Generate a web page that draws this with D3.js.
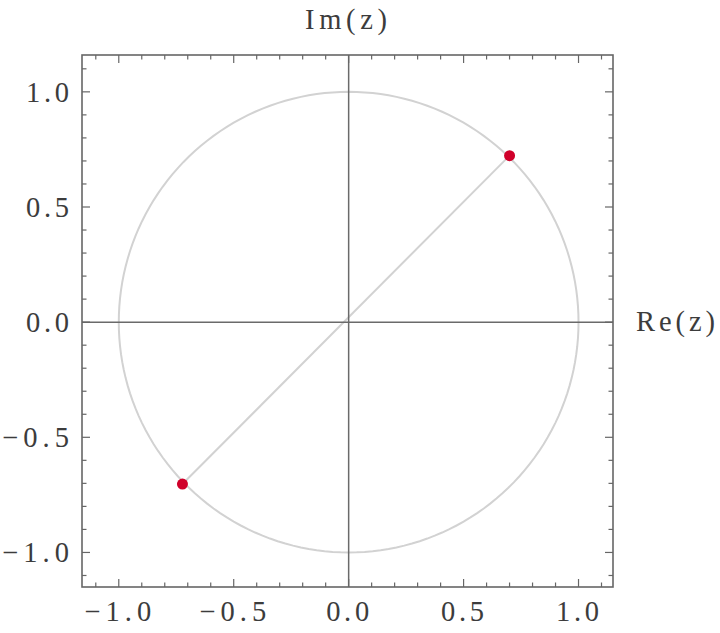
<!DOCTYPE html>
<html><head><meta charset="utf-8">
<script src="https://cdn.jsdelivr.net/npm/d3@7"></script>
<style>body{margin:0;background:#fff}</style>
</head><body>
<svg id="c" width="720" height="633"></svg>
<script>
const majorTicks = [-1.0, -0.5, 0.0, 0.5, 1.0];
const tickLabels = ["\u22121.0", "\u22120.5", "0.0", "0.5", "1.0"];
const rootsRe = [0.700, -0.723];
const rootsIm = [0.723, -0.703];
const circleT = d3.range(0, 361, 2);

const svg = d3.select("#c");
const L = 82, R = 613, T = 55, B = 587;
const x = d3.scaleLinear().domain([-1.16, 1.15]).range([L, R]);
const y = d3.scaleLinear().domain([-1.15, 1.16]).range([B, T]);
const font = "'Liberation Serif', 'DejaVu Serif', serif";
const txtCol = "#3c3c3c";

// unit circle
const line = d3.line().x(d => x(Math.cos(d * Math.PI / 180))).y(d => y(Math.sin(d * Math.PI / 180)));
svg.append("path").attr("d", line(circleT)).attr("fill", "none").attr("stroke", "#d2d2d2").attr("stroke-width", 2);
// line between roots
svg.append("line").attr("x1", x(rootsRe[0])).attr("y1", y(rootsIm[0])).attr("x2", x(rootsRe[1])).attr("y2", y(rootsIm[1]))
  .attr("stroke", "#d2d2d2").attr("stroke-width", 2);
// axes through origin
svg.append("line").attr("x1", L).attr("x2", R).attr("y1", y(0)).attr("y2", y(0)).attr("stroke", "#6a6a6a").attr("stroke-width", 1.5);
svg.append("line").attr("y1", T).attr("y2", B).attr("x1", x(0)).attr("x2", x(0)).attr("stroke", "#6a6a6a").attr("stroke-width", 1.5);

// frame with inward ticks
const minor = d3.range(-11, 12).map(i => i / 10);
const g = svg.append("g").attr("stroke", "#666").attr("stroke-width", 1.2);
g.append("rect").attr("x", L).attr("y", T).attr("width", R - L).attr("height", B - T).attr("fill", "none").attr("stroke-width", 1.6);
minor.forEach(v => {
  const len = majorTicks.some(m => Math.abs(m - v) < 1e-9) ? 8 : 4.5;
  g.append("line").attr("x1", x(v)).attr("x2", x(v)).attr("y1", B).attr("y2", B - len);
  g.append("line").attr("x1", x(v)).attr("x2", x(v)).attr("y1", T).attr("y2", T + len);
  g.append("line").attr("y1", y(v)).attr("y2", y(v)).attr("x1", L).attr("x2", L + len);
  g.append("line").attr("y1", y(v)).attr("y2", y(v)).attr("x1", R).attr("x2", R - len);
});

// labels: placed by left edge, widened by letter spacing
function label(s, left, py, w) {
  svg.append("text").attr("x", left).attr("y", py).attr("text-anchor", "start")
    .attr("font-family", font).attr("font-size", 28.5).attr("fill", txtCol)
    .attr("textLength", w).attr("lengthAdjust", "spacing").text(s);
}
majorTicks.forEach((v, i) => {
  const w = tickLabels[i].length > 3 ? 67 : 43;
  label(tickLabels[i], x(v) - w / 2 - 1, 621, w);
  label(tickLabels[i], 69 - w, y(v) + 10, w);
});
label("Im(z)", 305, 29, 82);
label("Re(z)", 636, y(0) + 9, 79);

// roots
rootsRe.forEach((r, i) => {
  svg.append("circle").attr("cx", x(r)).attr("cy", y(rootsIm[i])).attr("r", 5.5).attr("fill", "#d0002a");
});
</script>
</body></html>
